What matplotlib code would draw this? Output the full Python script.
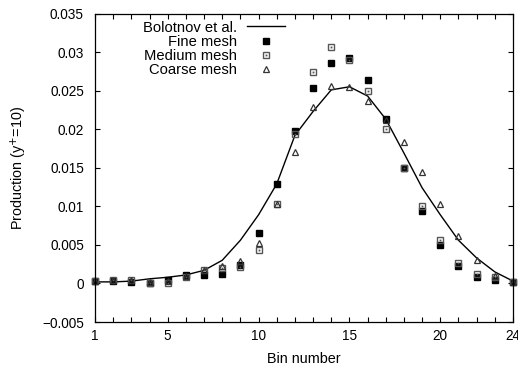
import matplotlib
matplotlib.use("Agg")
import matplotlib.pyplot as plt
from matplotlib.ticker import FuncFormatter, MultipleLocator, FixedLocator
from matplotlib.legend_handler import HandlerTuple

bins = list(range(1, 25))
bolotnov = [0.0002, 0.0002, 0.0003, 0.0006, 0.0008, 0.0011, 0.0017, 0.0030, 0.0056, 0.0089,
            0.0129, 0.0192, 0.0223, 0.0251, 0.0255, 0.0243, 0.0213, 0.0169, 0.0124, 0.0089,
            0.0056, 0.0033, 0.0015, 0.0003]
fine = [0.0003, 0.0003, 0.0002, 0.0000, 0.0004, 0.0011, 0.0011, 0.0012, 0.0024, 0.0065,
        0.0129, 0.0198, 0.0254, 0.0286, 0.0292, 0.0264, 0.0213, 0.0150, 0.0094, 0.0050,
        0.0023, 0.0008, 0.0005, 0.0002]
medium = [0.0003, 0.0005, 0.0004, 0.0001, 0.0000, 0.0008, 0.0017, 0.0020, 0.0021, 0.0044,
          0.0103, 0.0194, 0.0274, 0.0307, 0.0290, 0.0249, 0.0200, 0.0150, 0.0100, 0.0056,
          0.0026, 0.0012, 0.0008, 0.0002]
coarse = [0.0003, 0.0005, 0.0004, 0.0002, 0.0003, 0.0009, 0.0018, 0.0022, 0.0029, 0.0052,
          0.0103, 0.0171, 0.0229, 0.0256, 0.0255, 0.0236, 0.0212, 0.0184, 0.0145, 0.0103,
          0.0062, 0.0031, 0.0009, 0.0002]
xtick_labels = [1, 5, 10, 15, 20, 24]

plt.rcParams['font.family'] = ['Liberation Sans', 'DejaVu Sans']
plt.rcParams['font.size'] = 10

fig = plt.figure(figsize=(5.18, 3.70), dpi=100)
ax = fig.add_axes([95 / 518, 1 - 322 / 370, (513 - 95) / 518, (322 - 13.5) / 370])

l_line, = ax.plot(bins, bolotnov, color='black', lw=1.0)
l_fine, = ax.plot(bins, fine, ls='none', marker='s', ms=4.5, mfc='black', mec='black',
                  clip_on=False)
l_med, = ax.plot(bins, medium, ls='none', marker='s', ms=4.5, mfc='none', mec='#555555',
                 mew=1.0, clip_on=False)
l_medd, = ax.plot(bins, medium, ls='none', marker='s', ms=1.3, mfc='#555555', mec='none',
                  clip_on=False)
l_coarse, = ax.plot(bins, coarse, ls='none', marker='^', ms=4.2, mfc='none', mec='#333333',
                    mew=0.9, clip_on=False)

ax.set_xlim(1, 24)
ax.set_ylim(-0.005, 0.035)
ax.xaxis.set_major_locator(FixedLocator(xtick_labels))
ax.xaxis.set_minor_locator(MultipleLocator(1))
ax.yaxis.set_major_locator(MultipleLocator(0.005))
ax.yaxis.set_major_formatter(FuncFormatter(lambda v, p: ('%g' % round(v, 4)).replace('-', '\u2212')))
ax.tick_params(which='both', direction='in', top=True, right=True, length=3.5, width=0.8,
               labelsize=9.8, colors='black')
ax.tick_params(axis='x', pad=5)
ax.tick_params(axis='y', pad=8)
for s in ax.spines.values():
    s.set_linewidth(0.9)

ax.set_xlabel('Bin number', fontsize=10.4, va='center')
ax.set_ylabel('Production (y$^{+}$=10)', fontsize=10.4, va='center')
ax.xaxis.set_label_coords((304 - 95) / 418, (322 - 359) / 308.5)
ax.yaxis.set_label_coords((19 - 95) / 418, 0.5)

leg = ax.legend([l_line, l_fine, (l_med, l_medd), l_coarse],
                ['Bolotnov et al.', 'Fine mesh', 'Medium mesh', 'Coarse mesh'],
                handler_map={tuple: HandlerTuple(ndivide=1)},
                loc='upper right', bbox_to_anchor=((285 - 95) / 418, (322 - 20.5) / 308.5),
                frameon=False, markerfirst=False, handlelength=2.6, handletextpad=0.68,
                labelspacing=0.02, borderaxespad=0, borderpad=0, fontsize=10.6, numpoints=1)

fig.savefig('out.png', dpi=100)
